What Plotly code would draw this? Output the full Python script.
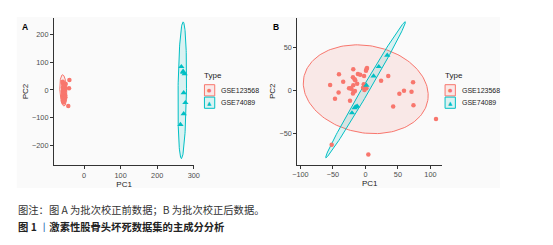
import numpy as np
import plotly.graph_objects as go

RED = "#F8766D"
TEAL = "#00BFC4"
RED_FILL = "rgba(248,118,109,0.13)"
TEAL_FILL = "rgba(0,191,196,0.13)"

groups = ["GSE123568", "GSE74089"]

# ---- Panel A (before batch correction) ----
A_red_x = [-58, -56, -55, -57, -54, -56, -53, -58, -55, -57, -54, -56, -52, -55, -57, -53, -56, -54, -58, -55,
           -53, -57, -56, -54, -55, -52, -57, -56, -54, -53, -55, -58, -56, -54, -40, -41, -43, -50, -51, -55]
A_red_y = [25, 18, 12, 8, 5, 2, -1, -4, -7, -10, -13, -16, -19, -22, -25, -28, -31, -35, -40, 20,
           15, 10, 0, -5, -12, -18, -20, -30, -38, 3, -8, 30, -45, 6, 36, 6, -58, 22, -26, 14]
A_teal_x = [266, 270.8, 275, 272.4, 277, 272.4, 263.5, 271]
A_teal_y = [84, 67.5, 58, -10, -46, -86, -125, 64]

# ellipse parameters: centre, conjugate semi-axis vectors
A_red_ell = dict(c=(-56.5, -1.5), a=(-2, 56.5), b=(9.5, 0))
A_teal_ell = dict(c=(268.5, -1), a=(2.3, 247), b=(11.5, 0))

# ---- Panel B (after batch correction) ----
B_red_x = [-54.3, -40.7, -34.2, -41.3, -46.8, -23.7, -25.2, -21.7, -18.7, -19.2, -16.6, -11.6, -8.1, -12.7,
           -18.7, -18.1, -16.1, -19.2, -2.1, 1.5, 2.4, -2.6, -1.1, -3.6, 24.1, 35.1, 73.3, 59.3, 52.2, 70.9,
           73.9, 42.7, 108.6, -51.9, 4.5, 0.9, -15.7, -1.5, 1.5, -22.2]
B_red_y = [5.9, 18.4, 9.8, -2.7, -10.2, -12.5, 2, 1.5, 24.3, 14.9, 12.5, 18.8, 18, 7.4,
           5.5, -2, -1.2, -3.9, 16.4, 24.3, 25.8, 6.7, 2.7, 2.7, 10.9, 16.4, 9, -0.8, -4.3, -2,
           -17.6, -19.1, -33.6, -63.7, -75, 22.6, 11.4, 0, 2, 2]
B_teal_x = [33.6, 20.5, 12.5, 1.5, -12.7, -16.6, -20.7, -14.5]
B_teal_y = [40.6, 27.3, 16.4, 5.5, -18.8, -20.7, -26.6, -19.5]

B_red_ell = dict(c=(0.5, 1), a=(96, -5), b=(-4, 51.5))
B_teal_ell = dict(c=(0.2, 0.4), a=(61, 79.3), b=(6.5, 0))

A_xticks = [0, 100, 200, 300]
A_yticks = [-200, -100, 0, 100, 200]
B_xticks = [-100, -50, 0, 50, 100]
B_yticks = [-50, 0, 50]

caption1 = "图注：图 A 为批次校正前数据；B 为批次校正后数据。"
caption2_a = "图 1 "
caption2_b = "丨"
caption2_c = "激素性股骨头坏死数据集的主成分分析"

W, H = 553, 245


def ellipse(p, n=160):
    t = np.linspace(0, 2 * np.pi, n)
    cx, cy = p["c"]
    ax, ay = p["a"]
    bx, by = p["b"]
    return cx + ax * np.cos(t) + bx * np.sin(t), cy + ay * np.cos(t) + by * np.sin(t)


fig = go.Figure()

for xa, ya, ells, pts in [
    ("x", "y", (A_red_ell, A_teal_ell), ((A_red_x, A_red_y), (A_teal_x, A_teal_y))),
    ("x2", "y2", (B_red_ell, B_teal_ell), ((B_red_x, B_red_y), (B_teal_x, B_teal_y))),
]:
    for ell, col, fc in zip(ells, (RED, TEAL), (RED_FILL, TEAL_FILL)):
        ex, ey = ellipse(ell)
        fig.add_trace(go.Scatter(x=ex, y=ey, mode="lines", fill="toself", fillcolor=fc,
                                 line=dict(color=col, width=1), xaxis=xa, yaxis=ya,
                                 showlegend=False, hoverinfo="skip"))
    (rx, ry), (tx, ty) = pts
    fig.add_trace(go.Scatter(x=rx, y=ry, mode="markers", name=groups[0],
                             marker=dict(color=RED, size=4.5, symbol="circle"),
                             xaxis=xa, yaxis=ya, showlegend=False))
    fig.add_trace(go.Scatter(x=tx, y=ty, mode="markers", name=groups[1],
                             marker=dict(color=TEAL, size=5.5, symbol="triangle-up"),
                             xaxis=xa, yaxis=ya, showlegend=False))


def px(x):
    return x / W


def py(y):
    return 1 - y / H


FONT = "Liberation Sans, Arial, sans-serif"
CJK = "Noto Sans CJK SC"
axis_common = dict(showline=True, linecolor="#333333", linewidth=1.1, ticks="outside", ticklen=3,
                   tickcolor="#333333", tickwidth=1, showgrid=False, zeroline=False,
                   tickfont=dict(family=FONT, size=7.3, color="#4d4d4d"),
                   title_font=dict(family=FONT, size=8, color="#222222"))

fig.update_layout(
    width=W, height=H, autosize=False,
    margin=dict(l=0, r=0, t=0, b=0),
    paper_bgcolor="white", plot_bgcolor="rgba(0,0,0,0)",
    showlegend=False,
    xaxis=dict(domain=[px(50), px(193)], range=[-82, 301], tickvals=A_xticks, anchor="y",
               title=dict(text="PC1", standoff=2), **axis_common),
    yaxis=dict(domain=[py(165), py(18)], range=[-271, 260], tickvals=A_yticks, anchor="x",
               title=dict(text="PC2", standoff=2), **axis_common),
    xaxis2=dict(domain=[px(298.3), px(446)], range=[-104.7, 118], tickvals=B_xticks, anchor="y2",
                title=dict(text="PC1", standoff=2), **axis_common),
    yaxis2=dict(domain=[py(164.5), py(18)], range=[-86.7, 84], tickvals=B_yticks, anchor="x2",
                title=dict(text="PC2", standoff=2), **axis_common),
)

shapes = [dict(type="rect", xref="paper", yref="paper", x0=px(12), x1=px(505), y0=py(188), y1=py(17),
               fillcolor="#fafafa", line=dict(width=0), layer="below")]
annotations = []

# panel tags
for lbl, x in (("A", 20.5), ("B", 276)):
    annotations.append(dict(text="<b>" + lbl + "</b>", x=px(x), y=py(27), xref="paper", yref="paper",
                            showarrow=False, xanchor="center", yanchor="middle",
                            font=dict(family=FONT, size=8.5, color="black")))

# legends (manual, ggplot-style keys)
for lx in (203, 448.5):
    annotations.append(dict(text="Type", x=px(lx - 1.5), y=py(76), xref="paper", yref="paper",
                            showarrow=False, xanchor="left", yanchor="middle",
                            font=dict(family=FONT, size=8, color="#222222")))
    for i, (g, col, fc, sym) in enumerate(zip(groups, (RED, TEAL), (RED_FILL, TEAL_FILL), ("●", "▲"))):
        yc = 90.3 + 12.4 * i
        shapes.append(dict(type="rect", xref="paper", yref="paper", x0=px(lx + 0.5), x1=px(lx + 11),
                           y0=py(yc + 5.6), y1=py(yc - 5.6), fillcolor=fc,
                           line=dict(color=col, width=1)))
        annotations.append(dict(text=sym, x=px(lx + 5.75), y=py(yc), xref="paper", yref="paper",
                                showarrow=False, xanchor="center", yanchor="middle",
                                font=dict(family="DejaVu Sans", size=5 if i == 0 else 5.5, color=col)))
        annotations.append(dict(text=g, x=px(lx + 15.5), y=py(yc), xref="paper", yref="paper",
                                showarrow=False, xanchor="left", yanchor="middle",
                                font=dict(family=FONT, size=7, color="#222222")))

# caption
annotations.append(dict(text=caption1, x=px(11), y=py(209), xref="paper", yref="paper",
                        showarrow=False, xanchor="left", yanchor="middle",
                        font=dict(family=CJK, size=10.3, color="#333333")))
annotations.append(dict(text="<b>" + caption2_a + "</b><span style='color:#2f6fb5'>" + caption2_b +
                        "</span><b>" + caption2_c + "</b>",
                        x=px(11), y=py(226), xref="paper", yref="paper",
                        showarrow=False, xanchor="left", yanchor="middle",
                        font=dict(family=CJK, size=10.3, color="#222222")))

fig.update_layout(shapes=shapes, annotations=annotations)
fig.write_html("out.html", config={"displayModeBar": False},
               post_script="document.body.style.margin='0';document.body.style.padding='0';"
                           "document.documentElement.style.overflow='hidden';")
